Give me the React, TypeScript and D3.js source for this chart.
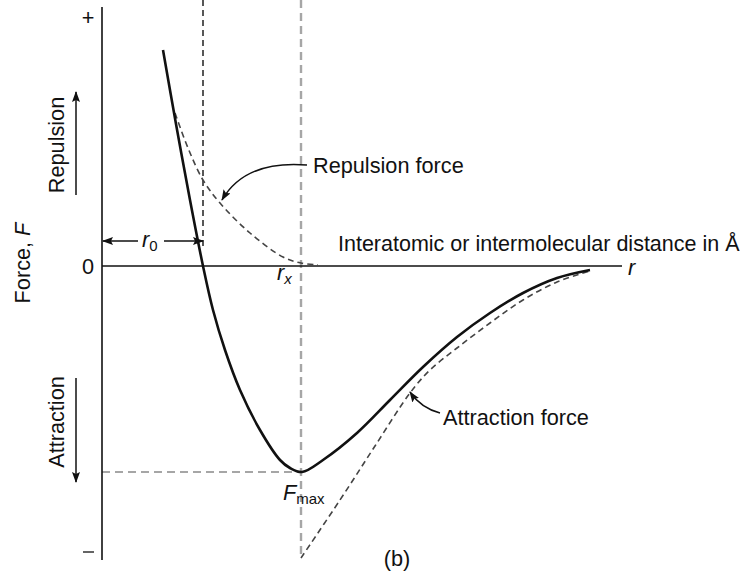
import React from "react";
import * as d3 from "d3";

const W = 747;
const H = 575;

// Interatomic distance r (Å) against force F (arbitrary units)
const netR = [0.61, 0.74, 0.88, 1.01, 1.11, 1.23, 1.38, 1.58, 1.78, 1.88, 2.0, 2.21, 2.55, 2.88, 3.21, 3.55, 3.88, 4.21, 4.55, 4.88];
const netF = [2.16, 1.42, 0.66, 0, -0.44, -0.84, -1.24, -1.64, -1.94, -2.02, -2.06, -1.94, -1.67, -1.34, -1.01, -0.71, -0.47, -0.27, -0.12, -0.04];

const repR = [0.73, 0.86, 1.01, 1.18, 1.48, 1.81, 1.99, 2.16];
const repF = [1.53, 1.18, 0.86, 0.63, 0.33, 0.09, 0.03, 0.01];

const attR = [1.99, 2.38, 2.73, 3.08, 3.28, 3.55, 3.88, 4.21, 4.55, 4.88];
const attF = [-2.92, -2.34, -1.8, -1.27, -1.04, -0.82, -0.57, -0.34, -0.16, -0.05];

const R0 = 1.01;
const RX = 1.99;
const FMAX = -2.06;
const R_END = 5.2;
const F_TOP = 2.59;
const F_BOTTOM = -2.94;
const F_PLUS = 2.48;
const F_MINUS = -2.86;

const x = d3.scaleLinear().domain([0, R_END]).range([102, 622]);
const y = d3.scaleLinear().domain([0, -1]).range([266, 366]);

const toPts = (rs: number[], fs: number[]) => rs.map((r, i) => [r, fs[i]] as [number, number]);

const line = d3
  .line<[number, number]>()
  .x((d) => x(d[0]))
  .y((d) => y(d[1]))
  .curve(d3.curveCatmullRom.alpha(0.5));

const FONT = "'Liberation Sans', Arial, Helvetica, sans-serif";
const FS = 21.7;

export default function App() {
  const netPath = line(toPts(netR, netF)) || "";
  const repPath = line(toPts(repR, repF)) || "";
  const attPath = line(toPts(attR, attF)) || "";

  const x0 = x(0);
  const yZero = y(0);

  // callout anchor points
  const repTip: [number, number] = [x(1.2), y(0.66)];
  const repStart: [number, number] = [x(2.05), y(1.01)];
  const attTip: [number, number] = [x(3.08), y(-1.26)];
  const attStart: [number, number] = [x(3.38), y(-1.47)];

  return (
    <svg
      width={W}
      height={H}
      viewBox={`0 0 ${W} ${H}`}
      style={{ position: "absolute", left: 0, top: 0, background: "#fff" }}
      fontFamily={FONT}
    >
      <defs>
        <marker id="ah" markerWidth={11} markerHeight={8} refX={10} refY={4} orient="auto" markerUnits="userSpaceOnUse">
          <path d="M0,0 L11,4 L0,8 L2,4 Z" fill="#111" />
        </marker>
      </defs>

      {/* guide lines */}
      <line x1={x(RX)} x2={x(RX)} y1={0} y2={y(F_BOTTOM + 0.02)} stroke="#a6a6a6" strokeWidth={2.4} strokeDasharray="8 5" />
      <line x1={x0} x2={x(RX)} y1={y(FMAX)} y2={y(FMAX)} stroke="#a6a6a6" strokeWidth={2.2} strokeDasharray="8 5" />
      <line x1={x(R0)} x2={x(R0)} y1={0} y2={y(0.16)} stroke="#111" strokeWidth={1.4} strokeDasharray="6 4" />

      {/* axes */}
      <line x1={x0} x2={x0} y1={y(F_TOP)} y2={y(F_BOTTOM)} stroke="#111" strokeWidth={1.6} />
      <line x1={x0} x2={x(R_END)} y1={yZero} y2={yZero} stroke="#111" strokeWidth={1.6} />

      {/* component forces */}
      <path d={repPath} fill="none" stroke="#444" strokeWidth={1.6} strokeDasharray="6 4" />
      <path d={attPath} fill="none" stroke="#444" strokeWidth={1.6} strokeDasharray="6 4" />
      {/* net force */}
      <path d={netPath} fill="none" stroke="#111" strokeWidth={2.6} strokeLinejoin="round" />

      {/* r0 dimension arrows */}
      <line x1={x0 + 36} x2={x0 + 1} y1={y(0.25)} y2={y(0.25)} stroke="#111" strokeWidth={1.5} markerEnd="url(#ah)" />
      <line x1={x0 + 62} x2={x(R0)} y1={y(0.25)} y2={y(0.25)} stroke="#111" strokeWidth={1.5} markerEnd="url(#ah)" />
      <text x={x0 + 40} y={y(0.19)} fontSize={FS} fill="#111">
        <tspan fontStyle="italic">r</tspan>
        <tspan fontSize={15} dy={4}>0</tspan>
      </text>

      {/* callouts */}
      <path
        d={`M${repStart[0]},${repStart[1]} Q${x(1.43)},${y(1.06)} ${repTip[0]},${repTip[1]}`}
        fill="none"
        stroke="#111"
        strokeWidth={1.5}
        markerEnd="url(#ah)"
      />
      <text x={x(2.11)} y={y(0.93)} fontSize={FS} fill="#111">Repulsion force</text>

      <path
        d={`M${attStart[0]},${attStart[1]} Q${x(3.19)},${y(-1.42)} ${attTip[0]},${attTip[1]}`}
        fill="none"
        stroke="#111"
        strokeWidth={1.5}
        markerEnd="url(#ah)"
      />
      <text x={x(3.41)} y={y(-1.59)} fontSize={FS} fill="#111">Attraction force</text>

      <text x={x(2.36)} y={y(0.15)} fontSize={21.5} fill="#111">
        Interatomic or intermolecular distance in Å
      </text>
      <text x={x(R_END) + 6} y={yZero + 9} fontSize={FS} fontStyle="italic" fill="#111">r</text>

      <text x={x(RX) - 24} y={y(-0.14)} fontSize={FS} fill="#111">
        <tspan fontStyle="italic">r</tspan>
        <tspan fontSize={15} fontStyle="italic" dy={4}>x</tspan>
      </text>

      <text x={x(RX) - 18} y={y(-2.34)} fontSize={FS} fill="#111">
        <tspan fontStyle="italic">F</tspan>
        <tspan fontSize={15} dy={4}>max</tspan>
      </text>

      {/* axis marks */}
      <text x={x0 - 14} y={y(F_PLUS) + 7} fontSize={FS} textAnchor="middle" fill="#111">+</text>
      <text x={x0 - 14} y={yZero + 8} fontSize={FS} textAnchor="middle" fill="#111">0</text>
      <line x1={x0 - 19} x2={x0 - 8} y1={y(F_MINUS)} y2={y(F_MINUS)} stroke="#111" strokeWidth={1.3} />

      {/* axis title and direction labels */}
      <text transform={`translate(30,${yZero - 3}) rotate(-90)`} fontSize={FS} textAnchor="middle" fill="#111">
        Force, <tspan fontStyle="italic">F</tspan>
      </text>
      <text transform={`translate(64,${y(1.21)}) rotate(-90)`} fontSize={FS} textAnchor="middle" fill="#111">
        Repulsion
      </text>
      <line x1={76} x2={76} y1={y(0.71)} y2={y(1.74)} stroke="#111" strokeWidth={1.5} markerEnd="url(#ah)" />
      <text transform={`translate(64,${y(-1.56)}) rotate(-90)`} fontSize={FS} textAnchor="middle" fill="#111">
        Attraction
      </text>
      <line x1={76} x2={76} y1={y(-1.12)} y2={y(-2.16)} stroke="#111" strokeWidth={1.5} markerEnd="url(#ah)" />

      <text x={x(2.95)} y={y(-3.0)} fontSize={FS} textAnchor="middle" fill="#111">(b)</text>
    </svg>
  );
}
